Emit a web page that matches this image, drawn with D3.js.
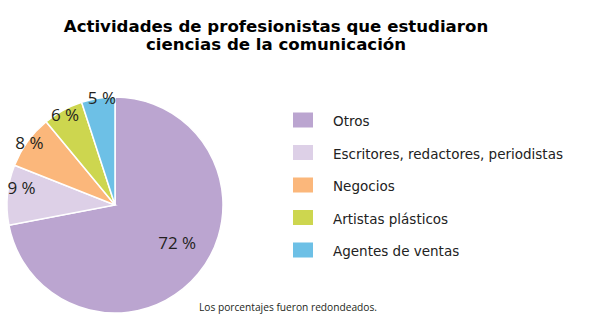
<!DOCTYPE html>
<html><head><meta charset="utf-8">
<script src="https://cdn.jsdelivr.net/npm/d3@7"></script>
<style>body{margin:0;background:#fff}</style>
</head><body>
<script>
const categories = ["Otros","Escritores, redactores, periodistas","Negocios","Artistas plásticos","Agentes de ventas"];
const values = [72, 9, 8, 6, 5];
const colors = ["#BBA5D0","#DDD0E7","#FBB77B","#CDD64F","#6DC0E6"];
const titleLines = ["Actividades de profesionistas que estudiaron","ciencias de la comunicación"];
const note = "Los porcentajes fueron redondeados.";

const W = 614, H = 330;
const svg = d3.select("body").append("svg").attr("width", W).attr("height", H);

svg.selectAll("text.title").data(titleLines).join("text")
  .attr("class","title")
  .attr("x", 276).attr("y", (d,i)=>32 + i*18)
  .attr("text-anchor","middle")
  .attr("font-family","DejaVu Sans, Verdana, sans-serif")
  .attr("font-weight","bold").attr("font-size",16.6).attr("fill","#000")
  .text(d=>d);

const cx = 115, cy = 205, r = 108;
const data = categories.map((c,i)=>({c, v:values[i], col:colors[i]}));
const pie = d3.pie().value(d=>d.v).sort(null);
const arc = d3.arc().innerRadius(0).outerRadius(r);
const arcs = pie(data);
const g = svg.append("g").attr("transform",`translate(${cx},${cy})`);
g.selectAll("path").data(arcs).join("path")
  .attr("d", arc).attr("fill", d=>d.data.col)
  .attr("stroke","#fff").attr("stroke-width",1.5);

// label placement: radius factor and angular shift (degrees) per slice
const labelR = [0.67, 0.88, 0.98, 0.96, 1.0];
const labelShift = [-8.8, 5, 0, 0, 2];
g.selectAll("text").data(arcs).join("text")
  .attr("transform",(d,i)=>{
    const a = (d.startAngle + d.endAngle)/2 + labelShift[i]*Math.PI/180;
    const rr = r*labelR[i];
    return `translate(${rr*Math.sin(a)},${-rr*Math.cos(a)})`;
  })
  .attr("text-anchor","middle").attr("dominant-baseline","central")
  .attr("font-family","Open Sans, sans-serif").attr("font-size",17)
  .attr("fill","#231F20")
  .text(d=>d.data.v + " %");

const lg = svg.append("g");
const ly = d3.scalePoint().domain(categories).range([120, 250]);
lg.selectAll("rect").data(data).join("rect")
  .attr("x",293).attr("y",d=>ly(d.c)-7.5).attr("width",20).attr("height",15)
  .attr("fill",d=>d.col);
lg.selectAll("text").data(data).join("text")
  .attr("x",333).attr("y",d=>ly(d.c)+1).attr("dominant-baseline","central")
  .attr("font-family","DejaVu Sans, Verdana, sans-serif").attr("font-size",13.5)
  .attr("fill","#222").text(d=>d.c);

svg.append("text").attr("x",199).attr("y",311)
  .attr("font-family","Open Sans, sans-serif").attr("font-size",10.2)
  .attr("fill","#231F20").text(note);
</script>
</body></html>
